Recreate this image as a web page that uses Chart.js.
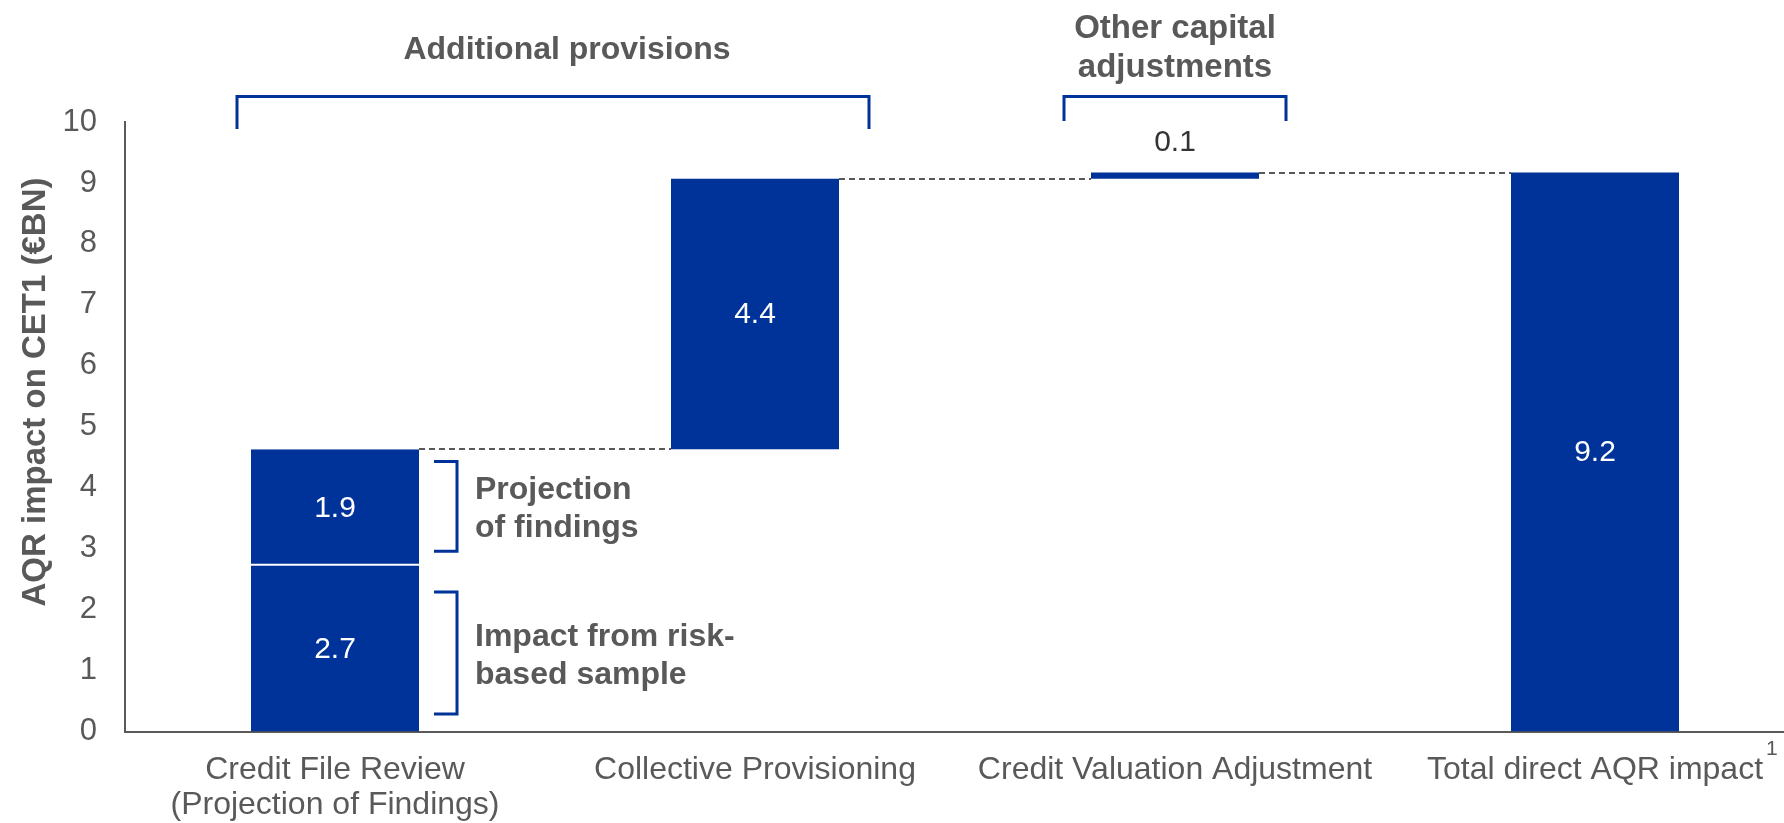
<!DOCTYPE html>
<html>
<head>
<meta charset="utf-8">
<script src="https://cdn.jsdelivr.net/npm/chart.js@4.4.1/dist/chart.umd.min.js"></script>
<style>
  html, body { margin: 0; padding: 0; background: #fff; overflow: hidden; }
  #wrap { width: 1784px; height: 823px; overflow: hidden; }
</style>
</head>
<body>
<div id="wrap"><canvas id="aqrChart" width="1806" height="823"></canvas></div>
<script>
const FONT = '"Liberation Sans", Arial, Helvetica, sans-serif';
const BLUE = '#003399';
const GREY = '#595959';

// data
const categories = [
  ["Credit File Review", "(Projection of Findings)"],
  "Collective Provisioning",
  "Credit Valuation Adjustment",
  "Total direct AQR impact"
];
const riskBasedSample = [2.72, null, null, null];   // lower part of the first bar
const increments = [1.91, 4.44, 0.10, null];        // waterfall steps
const totals = [null, null, null, 9.17];            // closing total bar
const yMin = 0, yMax = 10, yStep = 1;

// floating ranges for the waterfall
let running = 0;
const baseRanges = [], stepRanges = [], levels = [];
categories.forEach((c, i) => {
  if (totals[i] != null) {
    baseRanges.push([0, totals[i]]);
    running = totals[i];
  } else if (riskBasedSample[i] != null) {
    baseRanges.push([running, running + riskBasedSample[i]]);
    running += riskBasedSample[i];
  } else {
    baseRanges.push(null);
  }
  if (increments[i] != null) {
    stepRanges.push([running, running + increments[i]]);
    running += increments[i];
  } else {
    stepRanges.push(null);
  }
  levels.push(running);
});

const BAR_PCT = 0.4;

function barEdges(chart, i) {
  const x = chart.scales.x;
  const cx = x.getPixelForValue(i);
  const w = (x.getPixelForValue(1) - x.getPixelForValue(0)) * BAR_PCT;
  return [cx - w / 2, cx + w / 2, cx];
}

function drawBracketDown(ctx, x1, x2, yTop, yEnd) {
  ctx.beginPath();
  ctx.moveTo(x1, yEnd);
  ctx.lineTo(x1, yTop);
  ctx.lineTo(x2, yTop);
  ctx.lineTo(x2, yEnd);
  ctx.stroke();
}

function drawBracketSide(ctx, xArm, xLine, yTop, yBot) {
  ctx.beginPath();
  ctx.moveTo(xArm, yTop);
  ctx.lineTo(xLine, yTop);
  ctx.lineTo(xLine, yBot);
  ctx.lineTo(xArm, yBot);
  ctx.stroke();
}

// side notes on the first bar: value ranges they cover
const sideNotes = [
  { lines: ["Projection", "of findings"], from: 2.96, to: 4.43 },
  { lines: ["Impact from risk-", "based sample"], from: 0.29, to: 2.29 }
];

const annotate = {
  id: 'annotate',
  afterDatasetsDraw(chart) {
    const ctx = chart.ctx;
    const y = chart.scales.y;
    ctx.save();

    // dashed connectors
    ctx.strokeStyle = GREY;
    ctx.lineWidth = 2;
    ctx.setLineDash([6, 4]);
    for (let i = 0; i < categories.length - 1; i++) {
      const a = barEdges(chart, i), b = barEdges(chart, i + 1);
      const py = Math.round(y.getPixelForValue(levels[i]));
      ctx.beginPath();
      ctx.moveTo(a[1], py);
      ctx.lineTo(b[0], py);
      ctx.stroke();
    }
    ctx.setLineDash([]);

    // value labels
    [baseRanges, stepRanges].forEach((ranges, d) => {
      const meta = chart.getDatasetMeta(d);
      ranges.forEach((r, i) => {
        if (!r) return;
        const el = meta.data[i];
        const top = Math.min(el.y, el.base), bot = Math.max(el.y, el.base);
        const txt = (r[1] - r[0]).toFixed(1);
        ctx.font = '30px ' + FONT;
        ctx.textAlign = 'center';
        if (bot - top > 40) {
          ctx.fillStyle = '#ffffff';
          ctx.textBaseline = 'middle';
          ctx.fillText(txt, el.x, (top + bot) / 2 + 1);
        } else {
          ctx.fillStyle = '#333333';
          ctx.textBaseline = 'alphabetic';
          ctx.fillText(txt, el.x, top - 22);
        }
      });
    });

    // brackets
    ctx.strokeStyle = BLUE;
    ctx.lineWidth = 3;
    const b0 = barEdges(chart, 0), b1 = barEdges(chart, 1), b2 = barEdges(chart, 2);
    drawBracketDown(ctx, b0[0] - 14, b1[1] + 30, 96.5, 129);
    drawBracketDown(ctx, b2[0] - 27, b2[1] + 27, 96.5, 121);
    sideNotes.forEach(n => {
      const yt = y.getPixelForValue(n.to), yb = y.getPixelForValue(n.from);
      drawBracketSide(ctx, b0[1] + 15, b0[1] + 38, yt, yb);
      ctx.fillStyle = GREY;
      ctx.font = 'bold 32px ' + FONT;
      ctx.textAlign = 'left';
      ctx.textBaseline = 'alphabetic';
      const mid = (yt + yb) / 2;
      ctx.fillText(n.lines[0], b0[1] + 56, mid - 7);
      ctx.fillText(n.lines[1], b0[1] + 56, mid + 31);
    });

    // group titles
    ctx.fillStyle = GREY;
    ctx.font = 'bold 32px ' + FONT;
    ctx.textAlign = 'center';
    ctx.textBaseline = 'alphabetic';
    ctx.fillText('Additional provisions', (b0[0] + b1[1]) / 2 + 22, 59);
    ctx.font = 'bold 33px ' + FONT;
    ctx.fillText('Other capital', b2[2], 38);
    ctx.fillText('adjustments', b2[2], 77);

    // y axis title
    ctx.save();
    ctx.translate(36, 392);
    ctx.rotate(-Math.PI / 2);
    ctx.font = 'bold 33px ' + FONT;
    ctx.textBaseline = 'middle';
    ctx.fillText('AQR impact on CET1 (€BN)', 0, 0);
    ctx.restore();

    // footnote marker
    ctx.font = '21px ' + FONT;
    ctx.textAlign = 'left';
    ctx.fillText('1', 1766, 755);

    ctx.restore();
  }
};

Chart.defaults.font.family = FONT;

new Chart(document.getElementById('aqrChart'), {
  type: 'bar',
  data: {
    labels: categories,
    datasets: [
      {
        label: 'base',
        data: baseRanges,
        backgroundColor: BLUE,
        borderWidth: 0,
        grouped: false,
        barPercentage: BAR_PCT,
        categoryPercentage: 1
      },
      {
        label: 'steps',
        data: stepRanges,
        backgroundColor: BLUE,
        borderColor: '#ffffff',
        borderWidth: ctx => ctx.dataIndex === 0 ? { top: 0, right: 0, bottom: 2, left: 0 } : 0,
        borderSkipped: false,
        grouped: false,
        barPercentage: BAR_PCT,
        categoryPercentage: 1
      }
    ]
  },
  options: {
    responsive: false,
    animation: false,
    layout: { padding: { top: 122, right: 1, left: 0, bottom: 0 } },
    plugins: {
      legend: { display: false },
      tooltip: { enabled: false }
    },
    scales: {
      x: {
        grid: { display: false, drawTicks: false },
        border: { display: true, color: GREY, width: 2 },
        ticks: {
          color: GREY,
          font: { size: 32, lineHeight: 1.1 },
          padding: 21,
          maxRotation: 0,
          autoSkip: false
        },
        afterFit: s => { s.height = 91.4; }
      },
      y: {
        min: yMin,
        max: yMax,
        grid: { display: false, drawTicks: false },
        border: { display: true, color: GREY, width: 2 },
        ticks: {
          stepSize: yStep,
          color: GREY,
          font: { size: 31 },
          padding: 28,
          autoSkip: false
        },
        afterFit: s => { s.width = 125; }
      }
    }
  },
  plugins: [annotate]
});
</script>
</body>
</html>
